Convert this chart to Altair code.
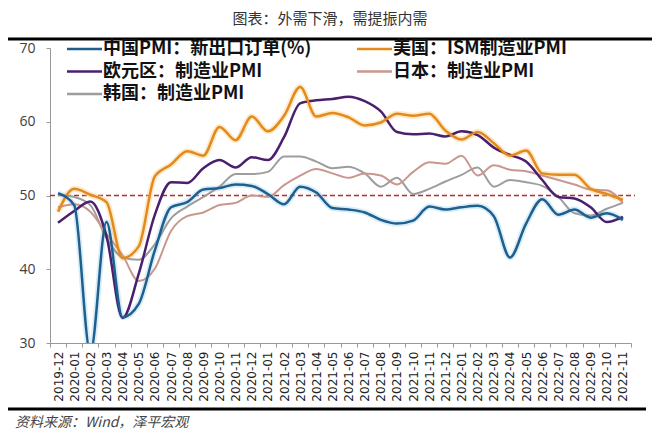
import altair as alt
import pandas as pd

months = ["2019-12","2020-01","2020-02","2020-03","2020-04","2020-05","2020-06","2020-07",
          "2020-08","2020-09","2020-10","2020-11","2020-12","2021-01","2021-02","2021-03",
          "2021-04","2021-05","2021-06","2021-07","2021-08","2021-09","2021-10","2021-11",
          "2021-12","2022-01","2022-02","2022-03","2022-04","2022-05","2022-06","2022-07",
          "2022-08","2022-09","2022-10","2022-11"]

china = [50.3,48.7,28.7,46.4,33.5,35.3,42.6,48.4,49.1,50.8,51.0,51.5,51.3,50.2,48.8,51.2,
         50.4,48.3,48.1,47.7,46.7,46.2,46.6,48.5,48.1,48.4,48.6,47.2,41.6,46.2,49.5,47.4,
         48.1,47.0,47.6,46.7]
us = [47.8,50.9,50.1,49.1,41.5,43.1,52.6,54.2,56.0,55.4,59.3,57.5,60.7,58.7,60.8,64.7,
      60.7,61.2,60.6,59.5,59.9,61.1,60.8,61.1,58.8,57.6,58.6,57.1,55.4,56.1,53.0,52.8,
      52.8,50.9,50.2,49.4]
euro = [46.3,47.9,49.2,44.5,33.4,39.4,47.4,51.8,51.7,53.7,54.8,53.8,55.2,54.8,57.9,62.5,
        62.9,63.1,63.4,62.8,61.4,58.6,58.3,58.4,58.0,58.7,58.2,56.5,55.5,54.6,52.1,49.8,
        49.6,48.4,46.4,47.1]
japan = [48.4,48.8,47.8,44.8,41.9,38.4,40.1,45.2,47.2,47.7,48.7,49.0,50.0,49.8,51.4,52.7,
         53.6,53.0,52.4,53.0,52.7,51.5,53.2,54.5,54.3,55.4,52.7,54.1,53.5,53.3,52.7,52.1,
         51.5,50.8,50.7,49.0]
korea = [50.1,49.8,48.7,44.2,41.6,41.3,43.4,46.9,48.5,49.8,51.2,52.9,52.9,53.2,55.3,55.3,
         54.6,53.7,53.9,53.0,51.2,52.4,50.2,50.9,51.9,52.8,53.8,51.2,52.1,51.8,51.3,49.8,
         47.6,47.3,48.2,49.0]

n_cn = "中国PMI：新出口订单(%)"
n_us = "美国：ISM制造业PMI"
n_eu = "欧元区：制造业PMI"
n_jp = "日本：制造业PMI"
n_kr = "韩国：制造业PMI"

# legend order (column-major: first column 中国/欧元区/韩国, second 美国/日本)
legend_order = [n_cn, n_eu, n_kr, n_us, n_jp]
legend_colors = ["#1f5f8e", "#4a1f6e", "#9d9d9d", "#e48a1c", "#c9978d"]
line_width = {n_cn: 2.5, n_us: 2.5, n_eu: 2.5, n_jp: 2.0, n_kr: 2.0}

title_text = "图表：外需下滑，需提振内需"
source_text = "资料来源：Wind，泽平宏观"

series_draw = [(n_kr, korea), (n_jp, japan), (n_eu, euro), (n_us, us), (n_cn, china)]
rows = []
for nm, vals in series_draw:
    for m, v in zip(months, vals):
        rows.append({"month": m, "value": v, "series": nm, "w": line_width[nm]})
df = pd.DataFrame(rows)

x_enc = alt.X("month:O",
              scale=alt.Scale(type="band", paddingInner=0, paddingOuter=0, domain=months),
              bandPosition=0.5,
              axis=alt.Axis(title=None, labelAngle=-90, tickBand="extent",
                            labelFont="DejaVu Sans", labelFontSize=12, labelColor="#222",
                            domainColor="#999", tickColor="#999", tickSize=4,
                            labelPadding=4))
y_enc = alt.Y("value:Q",
              scale=alt.Scale(domain=[30, 70], nice=False, zero=False),
              axis=alt.Axis(title=None, values=[30, 40, 50, 60, 70], grid=False,
                            labelFont="Open Sans", labelFontSize=14, labelColor="#404040",
                            domainColor="#999", tickColor="#999", tickSize=4,
                            labelPadding=11))

base = alt.Chart(df)

glow_china = base.transform_filter(alt.datum.series == n_cn).mark_line(
    interpolate="monotone", clip=True, strokeWidth=6, opacity=0.45, color="#a8d6f2"
).encode(x=x_enc, y=y_enc)
glow_us = base.transform_filter(alt.datum.series == n_us).mark_line(
    interpolate="monotone", clip=True, strokeWidth=6, opacity=0.45, color="#fbd089"
).encode(x=x_enc, y=y_enc)

lines = base.mark_line(interpolate="monotone", clip=True).encode(
    x=x_enc, y=y_enc,
    color=alt.Color("series:N",
                    scale=alt.Scale(domain=legend_order, range=legend_colors),
                    legend=alt.Legend(title=None, orient="none", legendX=15, legendY=-8,
                                      columns=2, columnPadding=40, rowPadding=4.5,
                                      symbolType="M-1,0H4", symbolSize=196,
                                      symbolStrokeWidth=2.5, symbolFillColor="transparent",
                                      labelFont="Noto Sans CJK SC",
                                      labelFontSize=18, labelFontWeight="bold",
                                      labelOffset=20,
                                      labelColor="#111", labelLimit=400, padding=0)),
    strokeWidth=alt.StrokeWidth("w:Q", scale=None, legend=None),
)

ref50 = alt.Chart(pd.DataFrame({"k": ["r"]})).mark_rule(
    color="#c0272d", strokeDash=[5, 3], strokeWidth=1.5
).encode(y=alt.datum(50), x=alt.value(0), x2=alt.value(585))

# heavy separator lines above the plot and below the axis labels,
# drawn as long stroked line symbols (length = sqrt(size))
top_sep = alt.Chart(pd.DataFrame({"s": ["top"]})).mark_point(
    shape="M-1,0H1", size=650 * 650, filled=False, strokeWidth=3, color="#000", opacity=1
).encode(x=alt.value(280), y=alt.value(-9))
bottom_sep = alt.Chart(pd.DataFrame({"s": ["bottom"]})).mark_point(
    shape="M-1,0H1", size=641 * 641, filled=False, strokeWidth=3, color="#000", opacity=1
).encode(x=alt.value(275.5), y=alt.value(361))

title = alt.Chart(pd.DataFrame({"t": [title_text]})).mark_text(
    font="Noto Sans CJK SC", fontSize=15, color="#333", align="center", baseline="middle"
).encode(text="t:N", x=alt.value(280), y=alt.value(-29))

source = alt.Chart(pd.DataFrame({"t": [source_text]})).mark_text(
    font="Noto Sans CJK SC", fontSize=14, fontStyle="italic", color="#444",
    align="left", baseline="middle"
).encode(text="t:N", x=alt.value(-35), y=alt.value(375))

chart = alt.layer(ref50, glow_china, glow_us, lines, top_sep, bottom_sep, title, source).properties(
    width=581, height=295,
    padding={"left": 42, "top": 40, "right": 21, "bottom": 88},
    autosize=alt.AutoSizeParams(type="none"),
).configure_view(stroke=None)

chart.save("out.html", embed_options={"renderer": "svg", "actions": False})
